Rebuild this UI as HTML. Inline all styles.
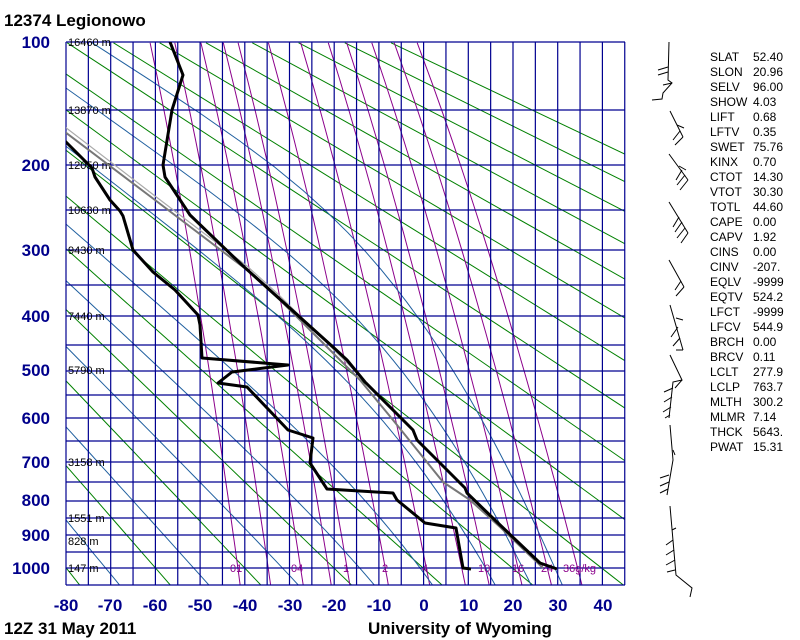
<!DOCTYPE html>
<html><head><meta charset="utf-8">
<style>
body{margin:0;background:#fff;width:800px;height:640px;overflow:hidden;font-family:"Liberation Sans",sans-serif}
svg{position:absolute;left:0;top:0}
</style></head><body>
<svg id="s" width="800" height="640" xmlns="http://www.w3.org/2000/svg">
<defs><clipPath id="c"><rect x="66" y="42" width="559" height="543"/></clipPath></defs>
<g id="bg" clip-path="url(#c)"></g>
<g id="grid" stroke="#000090" stroke-width="1.2"></g>
<g font-family="Liberation Sans, sans-serif" font-size="11" fill="#000">
<text x="68" y="46">16460 m</text><text x="68" y="114">13870 m</text><text x="68" y="169">12050 m</text>
<text x="68" y="214">10630 m</text><text x="68" y="254">9430 m</text><text x="68" y="320">7440 m</text>
<text x="68" y="374">5790 m</text><text x="68" y="466">3158 m</text><text x="68" y="522">1551 m</text>
<text x="68" y="545">828 m</text><text x="68" y="572">147 m</text>
</g>
<g font-family="Liberation Sans, sans-serif" font-size="11" fill="#8b008b">
<text x="230" y="572">01</text><text x="291" y="572">04</text><text x="343" y="572">1</text><text x="382" y="572">2</text>
<text x="422" y="572">4</text><text x="478" y="572">10</text><text x="512" y="572">16</text><text x="541" y="572">24</text><text x="563" y="572">36g/kg</text>
</g>
<g fill="none" stroke-linejoin="round" clip-path="url(#c)">
<polyline stroke="#aaa" stroke-width="1.2" points="65,127 155,196 247,266 280,296 360,376"/>
<polyline stroke="#777" stroke-width="2" points="543,568 500,527 470,500 443,482 393,420 360,380 280,300 247,270 155,200 65,132"/>
<polyline stroke="#000" stroke-width="3" points="170,42 183,75 172,110 163,165 165,177 190,215 242,265 333,347 347,360 365,382 413,430 417,440 465,488 467,493 498,523 540,563 557,569"/>
<polyline stroke="#000" stroke-width="3" points="65,141 92,168 95,177 110,200 120,211 123,216 133,250 153,272 175,290 198,315 200,325 202,358 288,365 232,372 218,383 247,387 288,430 313,438 310,463 327,489 393,493 397,500 425,523 456,528 463,568 471,569"/>
</g>
<g font-family="Liberation Sans, sans-serif" font-weight="bold" font-size="17" fill="#00008b" text-anchor="end">
<text x="50" y="48">100</text><text x="50" y="171">200</text><text x="50" y="256">300</text><text x="50" y="322">400</text>
<text x="50" y="376">500</text><text x="50" y="424">600</text><text x="50" y="468">700</text><text x="50" y="506">800</text>
<text x="50" y="541">900</text><text x="50" y="574">1000</text>
</g>
<g font-family="Liberation Sans, sans-serif" font-weight="bold" font-size="17" fill="#00008b" text-anchor="middle">
<text x="66" y="611">-80</text><text x="110" y="611">-70</text><text x="155" y="611">-60</text><text x="200" y="611">-50</text>
<text x="245" y="611">-40</text><text x="290" y="611">-30</text><text x="334" y="611">-20</text><text x="379" y="611">-10</text>
<text x="424" y="611">0</text><text x="469" y="611">10</text><text x="513" y="611">20</text><text x="558" y="611">30</text><text x="603" y="611">40</text>
</g>
<g font-family="Liberation Sans, sans-serif" font-weight="bold" font-size="17" fill="#000">
<text x="4" y="26">12374  Legionowo</text>
<text x="4" y="634">12Z 31 May 2011</text>
<text x="368" y="634">University of Wyoming</text>
</g>
<g id="idx" font-family="Liberation Sans, sans-serif" font-size="12" fill="#000"></g>
<g stroke="#000" stroke-width="1" fill="none">
<polyline points="669,42 668,80 672,83 663,93 662,99 652,100"/><path d="M658,70 L668,67 M658,75 L668,72 M663,85 L672,83"/>
<polyline points="670,111 683,137"/><path d="M683,137 L675,145 M680,131 L673,140 M677,125 L684,128"/>
<polyline points="669,154 688,180"/><path d="M688,180 L680,190 M685,175 L677,185 M682,170 L676,180 M679,166 L686,170"/>
<polyline points="669,202 688,233"/><path d="M688,233 L681,243 M685,228 L677,238 M682,222 L675,232 M679,217 L673,227"/>
<polyline points="669,260 684,287"/><path d="M684,287 L676,296 M681,281 L675,290"/>
<polyline points="670,305 683,350"/><path d="M683,350 L676,350 M680,338 L673,346 M678,327 L671,337 M676,318 L683,320"/>
<polyline points="670,355 682,380 673,382 669,418"/><path d="M682,380 L675,388 M673,388 L664,392 M672,397 L664,402 M671,407 L663,412 M670,415 L665,418"/>
<polyline points="670,425 673,460 667,495"/><path d="M673,450 L675,455 M669,475 L660,478 M669,482 L660,486 M668,489 L660,493"/>
<polyline points="670,506 676,575 692,588 690,597"/><path d="M672,530 L676,528 M673,540 L666,545 M674,550 L666,555 M675,560 L666,565 M675,570 L667,572"/>
</g>
</svg>
<script>
(function(){
var NS="http://www.w3.org/2000/svg";
function xT(T){return 424+T*4.47;}
function yP(p){return -523+151.6*Math.pow(p,0.286);}
var bg=document.getElementById('bg'),grid=document.getElementById('grid');
function pl(g,pts,col,w){var e=document.createElementNS(NS,'polyline');e.setAttribute('points',pts.map(function(a){return a[0].toFixed(1)+','+a[1].toFixed(1)}).join(' '));e.setAttribute('fill','none');e.setAttribute('stroke',col);e.setAttribute('stroke-width',w);g.appendChild(e);}
function ln(g,x1,y1,x2,y2){var e=document.createElementNS(NS,'line');e.setAttribute('x1',x1);e.setAttribute('y1',y1);e.setAttribute('x2',x2);e.setAttribute('y2',y2);g.appendChild(e);}
// dry adiabats
for(var th=153.5;th<=520;th+=20){var pts=[];for(var p=100;p<=1050;p+=50){pts.push([xT(th*Math.pow(p/1000,0.286)-273.15),yP(p)]);}pl(bg,pts,'#008000',1);}
// mixing ratio
[0.1,0.2,0.4,0.7,1,2,4,7,10,16,24,36].forEach(function(w){var pts=[];for(var p=100;p<=1050;p+=25){var e=w*p/(622+w);var l=Math.log(e/6.112);var T=243.5*l/(17.67-l);pts.push([xT(T),yP(p)]);}pl(bg,pts,'#8b008b',1);});
// moist adiabats
function es(T){return 6.112*Math.exp(17.67*T/(T+243.5));}
function dTdp(T,p){var Tk=T+273.15,e=es(T),rs=0.622*e/(p-e),Rd=287,Lv=2.5e6,cp=1005;return (Rd*Tk+Lv*rs)/(p*(cp+Lv*Lv*rs*0.622/(Rd*Tk*Tk)));}
[-88,-68,-48,-28,-11,2,16,24,31].forEach(function(t0){var pts=[],T=t0,p=1050;pts.push([xT(T),yP(p)]);while(p>100){var h=-5;var k1=dTdp(T,p),k2=dTdp(T+h/2*k1,p+h/2);T+=h*k2;p+=h;if(p%25==0)pts.push([xT(T),yP(p)]);}
pl(bg,pts,'#1f5f9f',1);});
// grid
for(var i=0;i<=25;i++){var x=66+i*22.35;if(x>626)break;ln(grid,x,42,x,585);}
[42,110,165,210,250,285,316,345,371,395,418,441,462,482,501,518,535,552,568,585].forEach(function(y){ln(grid,66,y,625,y);});
// indices
var rows=[["SLAT","52.40"],["SLON","20.96"],["SELV","96.00"],["SHOW","4.03"],["LIFT","0.68"],["LFTV","0.35"],["SWET","75.76"],["KINX","0.70"],["CTOT","14.30"],["VTOT","30.30"],["TOTL","44.60"],["CAPE","0.00"],["CAPV","1.92"],["CINS","0.00"],["CINV","-207."],["EQLV","-9999"],["EQTV","524.2"],["LFCT","-9999"],["LFCV","544.9"],["BRCH","0.00"],["BRCV","0.11"],["LCLT","277.9"],["LCLP","763.7"],["MLTH","300.2"],["MLMR","7.14"],["THCK","5643."],["PWAT","15.31"]];
var g=document.getElementById('idx');
rows.forEach(function(r,i){var y=61+i*15;[[710,r[0]],[753,r[1]]].forEach(function(a){var t=document.createElementNS(NS,'text');t.setAttribute('x',a[0]);t.setAttribute('y',y);t.textContent=a[1];g.appendChild(t);});});
})();
</script>
</body></html>
